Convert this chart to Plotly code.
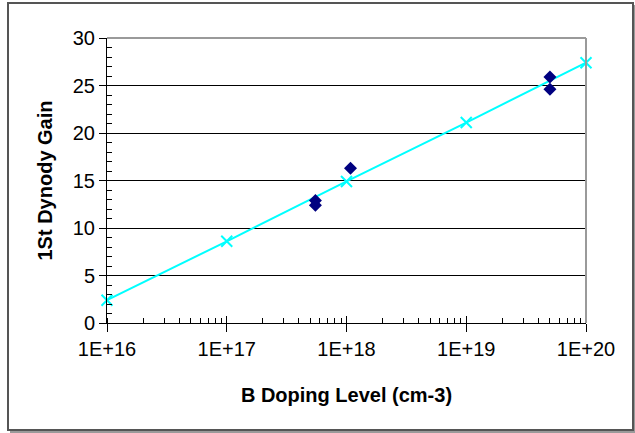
import plotly.graph_objects as go

# Measured gain vs boron doping
doping = [5.5e17, 5.5e17, 1.08e18, 5e19, 5e19]
gain = [12.4, 12.9, 16.3, 24.6, 25.9]

# Logarithmic trend line
trend_x = [1e16, 1e17, 1e18, 1e19, 1e20]
trend_y = [2.4, 8.6, 14.9, 21.1, 27.4]

x_tickvals = [1e16, 1e17, 1e18, 1e19, 1e20]
x_ticktext = ["1E+16", "1E+17", "1E+18", "1E+19", "1E+20"]

FONT = "Liberation Sans, Arial, sans-serif"

fig = go.Figure()
fig.add_trace(go.Scatter(
    x=trend_x, y=trend_y, mode="lines+markers",
    line=dict(color="#00FFFF", width=2),
    marker=dict(symbol="x-thin", size=11, line=dict(color="#00FFFF", width=2)),
    cliponaxis=False, showlegend=False,
))
fig.add_trace(go.Scatter(
    x=doping, y=gain, mode="markers",
    marker=dict(symbol="diamond", size=10, color="#000080"),
    cliponaxis=False, showlegend=False,
))

L, R, T, B = 107, 49, 38, 110
W, H = 635, 433
pw, ph = W - L - R, H - T - B

fig.update_layout(
    width=W, height=H,
    margin=dict(l=L, r=R, t=T, b=B),
    paper_bgcolor="white", plot_bgcolor="white",
    font=dict(family=FONT, size=20, color="black"),
    showlegend=False,
    xaxis=dict(
        type="log", range=[16, 20], tickvals=x_tickvals, ticktext=x_ticktext,
        ticks="outside", ticklen=8, tickwidth=1, tickcolor="black",
        showline=True, linecolor="black", linewidth=1, showgrid=False, zeroline=False,
        minor=dict(ticks="inside", ticklen=5, tickcolor="black", dtick="D1", showgrid=False),
        title=dict(text="<b>B Doping Level (cm-3)</b>", font=dict(size=20), standoff=28),
        tickfont=dict(size=20),
    ),
    yaxis=dict(
        range=[0, 30], tickmode="linear", tick0=0, dtick=5,
        ticks="outside", ticklen=7, tickwidth=1, tickcolor="black",
        showline=True, linecolor="black", linewidth=1,
        showgrid=True, gridcolor="black", gridwidth=1, zeroline=False,
        minor=dict(ticks="inside", ticklen=5, tickcolor="black", tickmode="linear",
                   tick0=0, dtick=1, showgrid=False),
        title=dict(text="<b>1St Dynody Gain</b>", font=dict(size=20), standoff=14),
        tickfont=dict(size=20),
    ),
    # inward halves of the major ticks
    xaxis2=dict(
        type="log", range=[16, 20], tickvals=x_tickvals, overlaying="x", anchor="y",
        side="bottom", ticks="inside", ticklen=7, tickcolor="black",
        showticklabels=False, showgrid=False, zeroline=False, showline=False,
    ),
    yaxis2=dict(
        range=[0, 30], tickmode="linear", tick0=0, dtick=5, overlaying="y", anchor="x",
        side="left", ticks="inside", ticklen=7, tickcolor="black",
        showticklabels=False, showgrid=False, zeroline=False, showline=False,
    ),
)
fig.add_trace(go.Scatter(x=[1e16], y=[0], xaxis="x2", yaxis="y2", mode="markers",
                         marker=dict(opacity=0), showlegend=False, hoverinfo="skip"))

# gray top and right edges of the plot area
fig.add_shape(type="line", xref="paper", yref="paper", x0=0, x1=1, y0=1, y1=1,
              line=dict(color="#9a9a9a", width=2))
fig.add_shape(type="line", xref="paper", yref="paper", x0=1, x1=1, y0=0, y1=1,
              line=dict(color="#9a9a9a", width=2))

# outer chart frame with a soft drop shadow on the lower/right edges
fx0, fx1 = (8 - L) / pw, (633 - L) / pw
fy0, fy1 = (T + ph - 430) / ph, (T + ph - 3) / ph
sx, sy = 2 / pw, 2 / ph
fig.add_shape(type="line", xref="paper", yref="paper", x0=fx0 + sx, x1=fx1 + sx,
              y0=fy0 - sy, y1=fy0 - sy, line=dict(color="#9a9a9a", width=2))
fig.add_shape(type="line", xref="paper", yref="paper", x0=fx1 + sx, x1=fx1 + sx,
              y0=fy0 - sy, y1=fy1 - sy, line=dict(color="#9a9a9a", width=2))
fig.add_shape(type="rect", xref="paper", yref="paper", x0=fx0, x1=fx1, y0=fy0, y1=fy1,
              line=dict(color="#555555", width=2))

fig.write_html("out.html")
